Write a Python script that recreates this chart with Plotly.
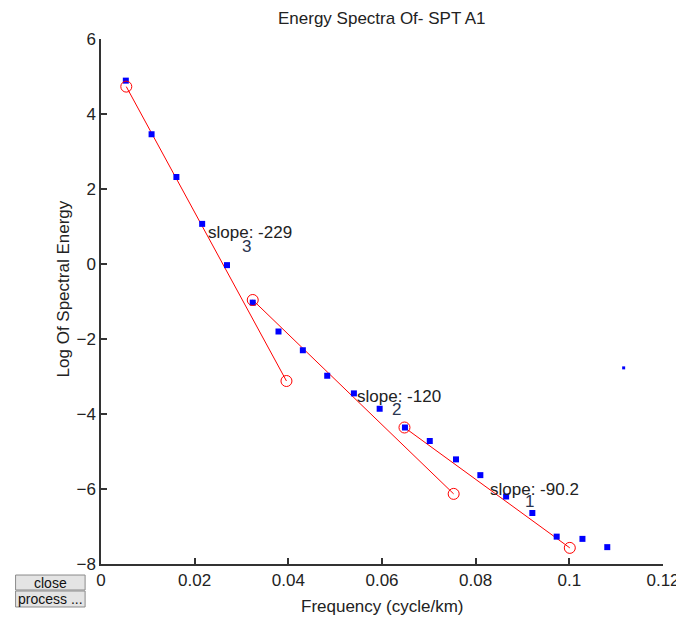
import plotly.graph_objects as go

# ---- data ----
freq = [0.0053, 0.0108, 0.0161, 0.0216, 0.0269, 0.0324, 0.0379, 0.0431, 0.0483, 0.0540,
        0.0595, 0.0649, 0.0702, 0.0758, 0.0810, 0.0865, 0.0921, 0.0973, 0.1028, 0.1081]
log_energy = [4.89, 3.46, 2.32, 1.07, -0.03, -1.03, -1.80, -2.30, -2.98, -3.45,
              -3.86, -4.36, -4.72, -5.21, -5.63, -6.20, -6.64, -7.27, -7.33, -7.55]

stray_x = [0.1116]
stray_y = [-2.77]

seg3_x = [0.0054, 0.0396]
seg3_y = [4.73, -3.12]
seg2_x = [0.0324, 0.0753]
seg2_y = [-0.96, -6.13]
seg1_x = [0.0648, 0.1001]
seg1_y = [-4.36, -7.57]

slope_labels = ["slope: -229", "slope: -120", "slope: -90.2"]
slope_pos = [(0.0225, 0.83), (0.0542, -3.54), (0.0826, -6.01)]
seg_ids = ["3", "2", "1"]
seg_id_pos = [(0.0311, 0.46), (0.0630, -3.89), (0.0915, -6.32)]

x_ticks = [0, 0.02, 0.04, 0.06, 0.08, 0.1, 0.12]
x_tick_text = ["0", "0.02", "0.04", "0.06", "0.08", "0.1", "0.12"]
y_ticks = [-8, -6, -4, -2, 0, 2, 4, 6]

TICKFONT = dict(family="Liberation Sans Narrow, Arial Narrow, Liberation Sans, Arial", size=17, color="#222")
TEXTFONT = dict(family="Liberation Sans, Arial, sans-serif", size=17, color="#222")

fig = go.Figure()

for sx, sy in [(seg3_x, seg3_y), (seg2_x, seg2_y), (seg1_x, seg1_y)]:
    fig.add_trace(go.Scatter(x=sx, y=sy, mode="lines", line=dict(color="#ff0000", width=1),
                             showlegend=False, hoverinfo="skip"))

fig.add_trace(go.Scatter(x=freq, y=log_energy, mode="markers",
                         marker=dict(symbol="square", size=6, color="#0000ff"),
                         showlegend=False))
fig.add_trace(go.Scatter(x=stray_x, y=stray_y, mode="markers",
                         marker=dict(symbol="square", size=3, color="#0000ff"),
                         showlegend=False))

for sx, sy in [(seg3_x, seg3_y), (seg2_x, seg2_y), (seg1_x, seg1_y)]:
    fig.add_trace(go.Scatter(x=sx, y=sy, mode="markers",
                             marker=dict(symbol="circle-open", size=11, color="#ff0000",
                                         line=dict(width=1, color="#ff0000")),
                             showlegend=False, hoverinfo="skip"))

annotations = []
for txt, (ax, ay) in zip(slope_labels, slope_pos):
    annotations.append(dict(x=ax, y=ay, xref="x", yref="y", text=txt, showarrow=False,
                            xanchor="left", yanchor="middle", font=TEXTFONT))
for txt, (ax, ay) in zip(seg_ids, seg_id_pos):
    annotations.append(dict(x=ax, y=ay, xref="x", yref="y", text=txt, showarrow=False,
                            xanchor="center", yanchor="middle",
                            font=dict(family=TEXTFONT["family"], size=17, color="#2a3550")))

# titles
annotations.append(dict(x=0.5, y=1, xref="paper", yref="paper", yshift=9, text="Energy Spectra Of- SPT A1",
                        showarrow=False, xanchor="center", yanchor="bottom", font=TEXTFONT))
annotations.append(dict(x=0.5, y=0, xref="paper", yref="paper", yshift=-42, text="Frequency (cycle/km)",
                        showarrow=False, xanchor="center", yanchor="middle", font=TEXTFONT))
annotations.append(dict(x=0, y=0.523, xref="paper", yref="paper", xshift=-38, text="Log Of Spectral Energy",
                        showarrow=False, xanchor="center", yanchor="middle", textangle=-90, font=TEXTFONT))

# UI buttons
shapes = []
buttons = [("close", -0.021, -0.0495), ("process ...", -0.0514, -0.0819)]
for label, y0, y1 in buttons:
    shapes.append(dict(type="rect", xref="paper", yref="paper", x0=-0.152, x1=-0.0283, y0=y1, y1=y0,
                       line=dict(color="#8a8a8a", width=1), fillcolor="#e4e4e4", layer="above"))
    annotations.append(dict(x=(-0.152 - 0.0283) / 2, y=(y0 + y1) / 2, xref="paper", yref="paper",
                            text=label, showarrow=False, xanchor="center", yanchor="middle",
                            font=dict(family="Liberation Sans, Arial, sans-serif", size=14, color="#111")))

fig.update_layout(
    width=684, height=608, autosize=False,
    margin=dict(l=93, r=25, t=31, b=52),
    paper_bgcolor="white", plot_bgcolor="white",
    annotations=annotations, shapes=shapes,
    showlegend=False,
)
fig.update_xaxes(range=[0, 0.12], tickvals=x_ticks, ticktext=x_tick_text,
                 showgrid=False, zeroline=False, showline=True, linecolor="#333", linewidth=1.5,
                 ticks="inside", ticklen=6, tickcolor="#333", tickwidth=1.5, tickfont=TICKFONT,
                 mirror=False)
fig.update_yaxes(range=[-8, 6], tickvals=y_ticks,
                 showgrid=False, zeroline=False, showline=True, linecolor="#333", linewidth=1.5,
                 ticks="inside", ticklen=6, tickcolor="#333", tickwidth=1.5, tickfont=TICKFONT,
                 mirror=False)

fig.write_html("out.html", config={"displayModeBar": False, "responsive": False})
